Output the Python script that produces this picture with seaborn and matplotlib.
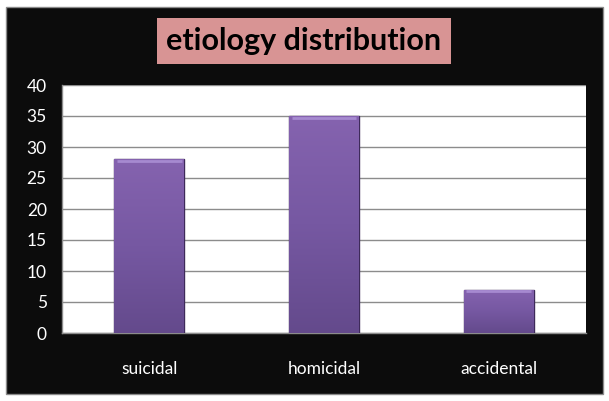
import numpy as np
import pandas as pd
import seaborn as sns
import matplotlib.pyplot as plt
from matplotlib.patches import Rectangle

categories = ['suicidal', 'homicidal', 'accidental']
counts = [28, 35, 7]
y_ticks = [0, 5, 10, 15, 20, 25, 30, 35, 40]

df = pd.DataFrame({'etiology': categories, 'count': counts})

sns.set_style('white')
plt.rcParams['font.family'] = ['Lato', 'DejaVu Sans']

fig = plt.figure(figsize=(6.09, 4.01), dpi=100, facecolor='white')
fig.patches.append(Rectangle((6 / 609, 7 / 401), 597 / 609, 387 / 401,
                             transform=fig.transFigure, facecolor='#0c0c0c',
                             edgecolor='#8a8a8a', linewidth=1, zorder=-10))

ax = fig.add_axes([62 / 609, 1 - 333 / 401, 524 / 609, 248 / 401])
ax.set_facecolor('white')

sns.barplot(data=df, x='etiology', y='count', color='#7658a2', width=0.4,
            edgecolor='#3e2a5a', linewidth=1, saturation=1, ax=ax, zorder=3)

# soft vertical gradient on each bar
grad = np.linspace(0, 1, 256).reshape(-1, 1)
cmap = sns.blend_palette(['#644a8c', '#7658a2', '#8563af'], as_cmap=True)
for bar in ax.patches:
    x0, w, h = bar.get_x(), bar.get_width(), bar.get_height()
    im = ax.imshow(grad, extent=(x0, x0 + w, 0, h), origin='lower', cmap=cmap,
                   aspect='auto', zorder=3.5)
    im.set_clip_path(bar)
    ax.plot([x0 + 0.015, x0 + w - 0.015], [h - 0.3, h - 0.3], color='#a68ad0',
            lw=2, zorder=4, solid_capstyle='butt')

ax.set_xlim(-0.5, 2.5)
ax.set_ylim(0, 40)
ax.set_yticks(y_ticks)
ax.yaxis.grid(True, color='#8c8c8c', linewidth=1)
ax.set_axisbelow(True)
ax.set_xlabel('')
ax.set_ylabel('')

ax.set_xticks([0, 1, 2])
ax.set_xticklabels(categories)
ax.set_xticks([-0.5, 0.5, 1.5, 2.5], minor=True)
ax.tick_params(axis='x', which='major', length=0, pad=20, colors='white',
               labelsize=12.5)
ax.tick_params(axis='x', which='minor', length=6, color='#8c8c8c',
               direction='out', width=1)
ax.tick_params(axis='y', length=5, direction='out', labelcolor='white',
               color='#8c8c8c', labelsize=12.5, pad=6)

for side in ['top', 'right']:
    ax.spines[side].set_visible(False)
for side in ['left', 'bottom']:
    ax.spines[side].set_color('#8c8c8c')
    ax.spines[side].set_linewidth(1)

fig.text(304 / 609, 1 - 41 / 401, 'etiology distribution', ha='center',
         va='center', fontsize=22, fontweight='bold', color='black',
         bbox=dict(boxstyle='square,pad=0.3', facecolor='#d89494',
                   edgecolor='none'))

fig.savefig('out.png', dpi=100, facecolor=fig.get_facecolor())
